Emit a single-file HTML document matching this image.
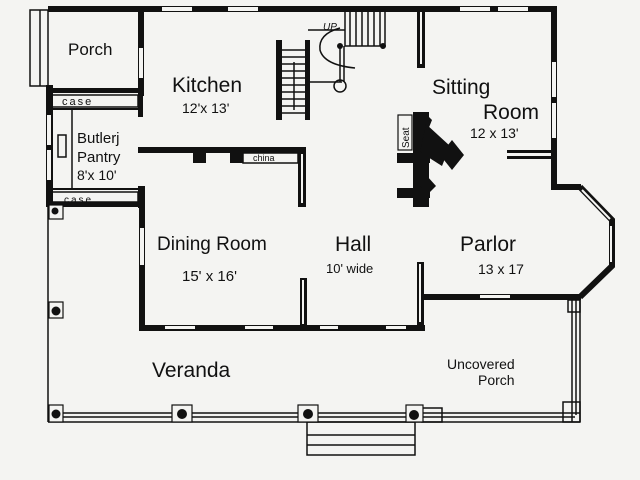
<!DOCTYPE html>
<html><head><meta charset="utf-8"><style>
html,body{margin:0;padding:0;background:#f4f4f2;}
svg{display:block}
text{font-family:"Liberation Sans",sans-serif;fill:#111}
</style></head><body>
<svg width="640" height="480" viewBox="0 0 640 480" xmlns="http://www.w3.org/2000/svg">
<rect width="640" height="480" fill="#f4f4f2"/>
<g fill="#111" stroke="none">
<rect x="48" y="6" width="509" height="6"/>
<rect x="162" y="7" width="30" height="4" fill="#f4f4f2"/>
<rect x="228" y="7" width="30" height="4" fill="#f4f4f2"/>
<rect x="460" y="7" width="30" height="4" fill="#f4f4f2"/>
<rect x="498" y="7" width="30" height="4" fill="#f4f4f2"/>
<rect x="551" y="6" width="6" height="182"/>
<rect x="552" y="62" width="4" height="35" fill="#f4f4f2"/>
<rect x="552" y="103" width="4" height="35" fill="#f4f4f2"/>
<rect x="551" y="184" width="30" height="6"/>
<rect x="138" y="6" width="6" height="90"/>
<rect x="139" y="48" width="4" height="30" fill="#f4f4f2"/>
<rect x="46" y="88" width="98" height="5"/>
<rect x="46" y="85" width="7" height="122"/>
<rect x="47" y="115" width="4" height="30" fill="#f4f4f2"/>
<rect x="47" y="150" width="4" height="30" fill="#f4f4f2"/>
<rect x="52" y="108" width="88" height="2"/>
<rect x="138" y="95" width="5" height="22"/>
<rect x="52" y="188" width="90" height="2"/>
<rect x="46" y="202" width="98" height="5"/>
<rect x="138" y="186" width="6" height="22"/>
<rect x="138" y="147" width="168" height="6"/>
<rect x="193" y="147" width="13" height="16"/>
<rect x="230" y="147" width="13" height="16"/>
<rect x="298" y="147" width="8" height="60"/>
<rect x="139" y="186" width="6" height="145"/>
<rect x="140" y="228" width="4" height="37" fill="#f4f4f2"/>
<rect x="139" y="325" width="286" height="6"/>
<rect x="165" y="326" width="30" height="3" fill="#f4f4f2"/>
<rect x="245" y="326" width="28" height="3" fill="#f4f4f2"/>
<rect x="320" y="326" width="18" height="3" fill="#f4f4f2"/>
<rect x="386" y="326" width="20" height="3" fill="#f4f4f2"/>
<rect x="300" y="278" width="7" height="52"/>
<rect x="417" y="262" width="7" height="68"/>
<rect x="417" y="10" width="8" height="58"/>
<rect x="424" y="294" width="157" height="6"/>
<rect x="480" y="295" width="30" height="3" fill="#f4f4f2"/>
<rect x="507" y="150" width="45" height="3"/>
<rect x="507" y="156" width="45" height="3"/>
</g>
<g stroke="#f4f4f2" stroke-width="2">
<line x1="303" y1="280" x2="303" y2="324"/>
<line x1="420" y1="264" x2="420" y2="322"/>
<line x1="421" y1="12" x2="421" y2="64"/>
<line x1="302" y1="154" x2="302" y2="203"/>
</g>
<polyline points="580,187 612,220 612,266 580,297" fill="none" stroke="#111" stroke-width="6"/>
<polyline points="582,190 610,219" fill="none" stroke="#f4f4f2" stroke-width="2"/>
<line x1="611" y1="226" x2="611" y2="262" stroke="#f4f4f2" stroke-width="2"/>
<g fill="none" stroke="#111" stroke-width="1.5">
<rect x="30" y="10" width="18" height="76"/>
<line x1="40" y1="10" x2="40" y2="86"/>
<rect x="52" y="95" width="86" height="12"/>
<rect x="52" y="192" width="86" height="10"/>
<rect x="243" y="153" width="55" height="10"/>
<line x1="72" y1="110" x2="72" y2="188"/>
<rect x="58" y="135" width="8" height="22"/>
<line x1="48" y1="207" x2="48" y2="422"/>
<line x1="48" y1="413" x2="580" y2="413"/>
<line x1="48" y1="422" x2="580" y2="422"/>
<line x1="48" y1="417" x2="575" y2="417"/>
<line x1="572" y1="300" x2="572" y2="422"/>
<line x1="580" y1="300" x2="580" y2="422"/>
<line x1="576" y1="300" x2="576" y2="415"/>
<rect x="563" y="402" width="17" height="20"/>
<rect x="568" y="300" width="12" height="12"/>
<rect x="422" y="408" width="20" height="14"/>
<rect x="307" y="422" width="108" height="33"/>
<line x1="307" y1="435" x2="415" y2="435"/>
<line x1="307" y1="445" x2="415" y2="445"/>
<rect x="345" y="10" width="40" height="36"/>
<line x1="350" y1="10" x2="350" y2="46"/><line x1="356" y1="10" x2="356" y2="46"/>
<line x1="362" y1="10" x2="362" y2="46"/><line x1="368" y1="10" x2="368" y2="46"/>
<line x1="374" y1="10" x2="374" y2="46"/><line x1="380" y1="10" x2="380" y2="46"/>
<line x1="308" y1="30" x2="345" y2="30"/>
<line x1="308" y1="82" x2="342" y2="82"/>
<line x1="340" y1="46" x2="340" y2="82"/>
<line x1="344" y1="46" x2="344" y2="82"/>
<path d="M340,28 Q318,34 320,50 Q324,65 355,68"/>
<circle cx="340" cy="86" r="6"/>
</g>
<g fill="#111">
<circle cx="340" cy="46" r="3"/><circle cx="383" cy="46" r="3"/>
<rect x="276" y="40" width="6" height="80"/>
<rect x="305" y="40" width="5" height="80"/>
</g>
<g stroke="#111" stroke-width="1.5">
<line x1="282" y1="50" x2="305" y2="50"/><line x1="282" y1="57" x2="305" y2="57"/>
<line x1="282" y1="64" x2="305" y2="64"/><line x1="282" y1="71" x2="305" y2="71"/>
<line x1="282" y1="78" x2="305" y2="78"/><line x1="282" y1="85" x2="305" y2="85"/>
<line x1="282" y1="92" x2="305" y2="92"/><line x1="282" y1="99" x2="305" y2="99"/>
<line x1="282" y1="106" x2="305" y2="106"/><line x1="282" y1="113" x2="305" y2="113"/>
<line x1="294" y1="62" x2="294" y2="110"/>
</g>
<!-- fireplace -->
<g fill="#111">
<rect x="413" y="112" width="16" height="95"/>
<polygon points="424,112 432,120 428,130 413,130"/>
<polygon points="426,124 450,146 442,166 420,152"/>
<polygon points="452,140 464,155 452,170 440,155"/>
<rect x="397" y="153" width="33" height="10"/>
<polygon points="427,176 436,186 428,194 420,186"/>
<rect x="397" y="188" width="33" height="10"/>
<rect x="398" y="115" width="14" height="35" fill="#f4f4f2" stroke="#111" stroke-width="1.2"/>
</g>
<g>
<rect x="49" y="302" width="14" height="16" fill="#f4f4f2" stroke="#111" stroke-width="1.2"/><circle cx="56" cy="311" r="4.5" fill="#111"/>
<rect x="49" y="405" width="14" height="17" fill="#f4f4f2" stroke="#111" stroke-width="1.2"/><circle cx="56" cy="414" r="4.5" fill="#111"/>
<rect x="172" y="405" width="20" height="17" fill="#f4f4f2" stroke="#111" stroke-width="1.2"/><circle cx="182" cy="414" r="5" fill="#111"/>
<rect x="298" y="405" width="20" height="17" fill="#f4f4f2" stroke="#111" stroke-width="1.2"/><circle cx="308" cy="414" r="5" fill="#111"/>
<rect x="406" y="405" width="17" height="17" fill="#f4f4f2" stroke="#111" stroke-width="1.2"/><circle cx="414" cy="415" r="5" fill="#111"/>
<rect x="49" y="205" width="14" height="14" fill="#f4f4f2" stroke="#111" stroke-width="1.2"/><circle cx="55" cy="211" r="3.5" fill="#111"/>
</g>
<text x="68" y="55" font-size="17">Porch</text>
<text x="172" y="92" font-size="21">Kitchen</text>
<text x="182" y="113" font-size="14">12'x 13'</text>
<text x="77" y="143" font-size="15">Butlerj</text>
<text x="77" y="162" font-size="15">Pantry</text>
<text x="77" y="180" font-size="14">8'x 10'</text>
<text x="62" y="105" font-size="11" letter-spacing="2">case</text>
<text x="64" y="203" font-size="10" letter-spacing="2">case</text>
<text x="253" y="161" font-size="9">china</text>
<text x="432" y="94" font-size="21">Sitting</text>
<text x="483" y="119" font-size="21">Room</text>
<text x="470" y="138" font-size="14">12 x 13'</text>
<text transform="translate(409,148) rotate(-90)" font-size="10">Seat</text>
<text x="157" y="250" font-size="19">Dining Room</text>
<text x="182" y="281" font-size="15">15' x 16'</text>
<text x="335" y="251" font-size="21">Hall</text>
<text x="326" y="273" font-size="13">10' wide</text>
<text x="460" y="251" font-size="21">Parlor</text>
<text x="478" y="274" font-size="14">13 x 17</text>
<text x="152" y="377" font-size="21">Veranda</text>
<text x="447" y="369" font-size="14">Uncovered</text>
<text x="478" y="385" font-size="14">Porch</text>
<text x="323" y="30" font-size="10" font-style="italic">UP</text>
</svg>
</body></html>
